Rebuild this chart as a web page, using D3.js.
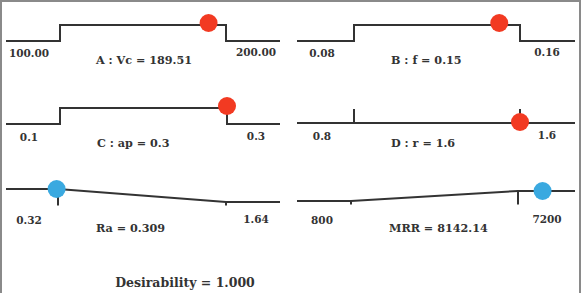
<!DOCTYPE html>
<html><head><meta charset="utf-8">
<script src="https://cdn.jsdelivr.net/npm/d3@7"></script>
<style>html,body{margin:0;padding:0;background:#fff;}svg{display:block;}</style>
</head><body>
<script>
// ---- data ----
const panelNames   = ["A : Vc", "B : f", "C : ap", "D : r", "Ra", "MRR"];
const lowLabels    = ["100.00", "0.08", "0.1", "0.8", "0.32", "800"];
const highLabels   = ["200.00", "0.16", "0.3", "1.6", "1.64", "7200"];
const lowValues    = [100, 0.08, 0.1, 0.8, 0.32, 800];
const highValues   = [200, 0.16, 0.3, 1.6, 1.64, 7200];
const currentValues= [189.51, 0.15, 0.3, 1.6, 0.309, 8142.14];
const currentText  = ["189.51", "0.15", "0.3", "1.6", "0.309", "8142.14"];
const profileKind  = ["range", "range", "range", "flat", "minimize", "maximize"];
const desirabilityText = "1.000";

// ---- layout ----
const W = 582, H = 293;
const layout = [
  {x0:0,   lo:60,  hi:226, yr:[41,25],   lab:57,  cen:64,  lc:29, tx:96},
  {x0:291, lo:63,  hi:229, yr:[41,25],   lab:57,  cen:64,  lc:31, tx:100},
  {x0:0,   lo:60,  hi:227, yr:[124,108], lab:141, cen:147, lc:29, tx:97},
  {x0:291, lo:63,  hi:229, yr:[123,109], lab:140, cen:147, lc:31, tx:100},
  {x0:0,   lo:58,  hi:226, yr:[202,189], lab:224, cen:232, lc:29, tx:96},
  {x0:291, lo:60,  hi:227, yr:[201,191], lab:224, cen:232, lc:31, tx:98}
];
const edgeL = 6, edgeR = 281;
const ink = "#333";

const svg = d3.select("body").append("svg").attr("width", W).attr("height", H);
svg.append("rect").attr("width", W).attr("height", H).attr("fill", "#fff");
svg.append("path").attr("d", `M1,${H} V1 H580 V${H}`).attr("fill","none")
  .attr("stroke","#8a8a8a").attr("stroke-width",2);

const font = "'DejaVu Serif', serif";

panelNames.forEach((name, i) => {
  const L = layout[i];
  const g = svg.append("g").attr("transform", `translate(${L.x0},0)`);
  const x = d3.scaleLinear().domain([lowValues[i], highValues[i]]).range([L.lo, L.hi]);
  const y = d3.scaleLinear().domain([0, 1]).range(L.yr);
  const xa = x.invert(edgeL), xb = x.invert(L.x0 === 0 ? edgeR - 1 : edgeR + 3);
  const lo = lowValues[i], hi = highValues[i];
  let pts;
  const kind = profileKind[i];
  if (kind === "range") pts = [[xa,0],[lo,0],[lo,1],[hi,1],[hi,0],[xb,0]];
  else if (kind === "flat") pts = [[xa,0],[xb,0]];
  else if (kind === "minimize") pts = [[xa,1],[lo,1],[hi,0],[xb,0]];
  else pts = [[xa,0],[lo,0],[hi,1],[xb,1]];
  const line = d3.line().x(d => x(d[0])).y(d => y(d[1]));
  g.append("path").attr("d", line(pts)).attr("fill","none")
    .attr("stroke", ink).attr("stroke-width", 2);

  if (kind === "flat") {
    [lo, hi].forEach(v => g.append("line").attr("x1", x(v)).attr("x2", x(v))
      .attr("y1", y(0)).attr("y2", y(1)).attr("stroke", ink).attr("stroke-width", 2));
  } else if (kind === "minimize" || kind === "maximize") {
    const yb = L.yr[0] + 3.5;
    [lo, hi].forEach(v => {
      const d = kind === "minimize" ? (v === lo ? 1 : 0) : (v === lo ? 0 : 1);
      g.append("line").attr("x1", x(v)).attr("x2", x(v))
        .attr("y1", y(d)).attr("y2", yb).attr("stroke", ink).attr("stroke-width", 2);
    });
  }

  let cy;
  if (kind === "range") cy = y(1) - 2;
  else if (kind === "flat") cy = y(0) - 1;
  else cy = y(1);
  const isResp = kind === "minimize" || kind === "maximize";
  g.append("circle").attr("cx", x(currentValues[i])).attr("cy", cy).attr("r", 9)
    .attr("fill", isResp ? "#3aa9e0" : "#f23a22");

  const txt = (tx, ty, s, size, anchor) => g.append("text").attr("x", tx).attr("y", ty)
    .attr("text-anchor", anchor).attr("font-family", font).attr("font-weight","bold")
    .attr("font-size", size).attr("fill", ink).text(s);
  txt(L.lc, L.lab, lowLabels[i], 10.5, "middle");
  txt(256, L.lab - 1.5, highLabels[i], 10.5, "middle");
  txt(L.tx, L.cen, `${name} = ${currentText[i]}`, 11.2, "start");
});

svg.append("text").attr("x", 185).attr("y", 287).attr("text-anchor","middle")
  .attr("font-family", font).attr("font-weight","bold").attr("font-size", 12.5)
  .attr("fill", ink).text(`Desirability = ${desirabilityText}`);
</script>
</body></html>
